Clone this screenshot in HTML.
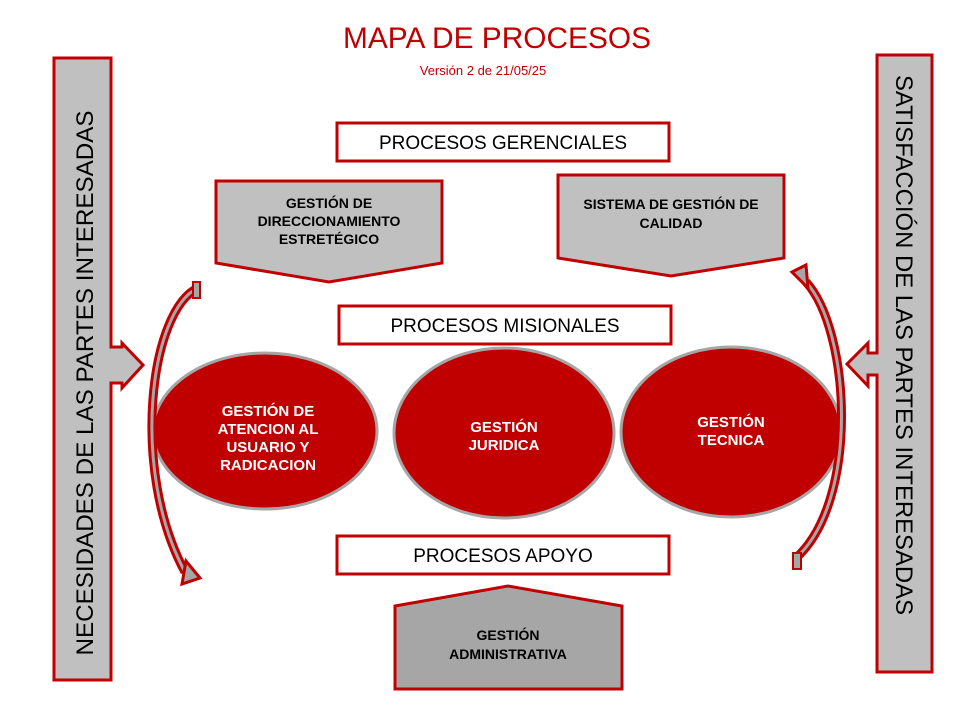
<!DOCTYPE html>
<html><head><meta charset="utf-8"><style>
html,body{margin:0;padding:0;background:#fff;width:956px;height:715px;overflow:hidden}
svg{display:block}
text{font-family:"Liberation Sans",sans-serif}
</style></head><body>
<svg width="956" height="715" viewBox="0 0 956 715">
<text x="497" y="48" text-anchor="middle" font-size="30" fill="#c00000" textLength="308" lengthAdjust="spacingAndGlyphs">MAPA DE PROCESOS</text>
<text x="483" y="75" text-anchor="middle" font-size="13" fill="#c00000">Versión 2 de 21/05/25</text>

<!-- left bar -->
<polygon points="54,58 111,58 111,347 122,347 122,343 143,365 122,388 122,383 111,383 111,680 54,680" fill="#c0c0c0" stroke="#c00000" stroke-width="3"/>
<text transform="translate(93,383) rotate(-90)" text-anchor="middle" font-size="24" fill="#000" textLength="545" lengthAdjust="spacingAndGlyphs">NECESIDADES DE LAS PARTES INTERESADAS</text>
<!-- right bar -->
<polygon points="877,55 932,55 932,672 877,672 877,375 868,375 868,386 847,364 868,343 868,353 877,353" fill="#c0c0c0" stroke="#c00000" stroke-width="3"/>
<text transform="translate(896,345) rotate(90)" text-anchor="middle" font-size="24" fill="#000" textLength="540" lengthAdjust="spacingAndGlyphs">SATISFACCIÓN DE LAS PARTES INTERESADAS</text>

<!-- header boxes -->
<rect x="337" y="123" width="332" height="38" fill="#fff" stroke="#c00000" stroke-width="3"/>
<text x="503" y="149" text-anchor="middle" font-size="19">PROCESOS GERENCIALES</text>
<rect x="339" y="306" width="332" height="38" fill="#fff" stroke="#c00000" stroke-width="3"/>
<text x="505" y="332" text-anchor="middle" font-size="19">PROCESOS MISIONALES</text>
<rect x="337" y="536" width="332" height="38" fill="#fff" stroke="#c00000" stroke-width="3"/>
<text x="503" y="562" text-anchor="middle" font-size="19">PROCESOS APOYO</text>

<!-- pentagons -->
<polygon points="216,181 442,181 442,263 329,282 216,263" fill="#c0c0c0" stroke="#c00000" stroke-width="3"/>
<g font-size="14" font-weight="bold" text-anchor="middle">
<text x="329" y="208">GESTIÓN DE</text>
<text x="329" y="226">DIRECCIONAMIENTO</text>
<text x="329" y="244">ESTRETÉGICO</text>
</g>
<polygon points="558,175 784,175 784,258 671,276 558,258" fill="#c0c0c0" stroke="#c00000" stroke-width="3"/>
<g font-size="14" font-weight="bold" text-anchor="middle">
<text x="671" y="209">SISTEMA DE GESTIÓN DE</text>
<text x="671" y="228">CALIDAD</text>
</g>
<polygon points="395,606 508,586 622,606 622,689 395,689" fill="#a6a6a6" stroke="#c00000" stroke-width="3"/>
<g font-size="14" font-weight="bold" text-anchor="middle">
<text x="508" y="640">GESTIÓN</text>
<text x="508" y="659">ADMINISTRATIVA</text>
</g>

<!-- ellipses -->
<g fill="#c00000" stroke="#a6a6a6" stroke-width="3">
<ellipse cx="265" cy="431" rx="112" ry="78"/>
<ellipse cx="504" cy="433" rx="110" ry="85"/>
<ellipse cx="731" cy="432" rx="110" ry="85"/>
</g>
<g font-size="15" font-weight="bold" text-anchor="middle" fill="#fff">
<text x="268" y="416">GESTIÓN DE</text>
<text x="268" y="434">ATENCION AL</text>
<text x="268" y="452">USUARIO Y</text>
<text x="268" y="470">RADICACION</text>
<text x="504" y="432">GESTIÓN</text>
<text x="504" y="450">JURIDICA</text>
<text x="731" y="427">GESTIÓN</text>
<text x="731" y="445">TECNICA</text>
</g>

<!-- curved arrows left -->
<path d="M198,288 C150,310 130,470 185,572" fill="none" stroke="#c00000" stroke-width="9"/>
<path d="M198,288 C150,310 130,470 185,572" fill="none" stroke="#a6a6a6" stroke-width="3"/>
<polygon points="186,561 200,578 182,584" fill="#a6a6a6" stroke="#c00000" stroke-width="3"/>
<rect x="193" y="282" width="7" height="16" fill="#a6a6a6" stroke="#c00000" stroke-width="2"/>
<!-- right -->
<path d="M806,282 C850,330 860,500 796,558" fill="none" stroke="#c00000" stroke-width="9"/>
<path d="M806,282 C850,330 860,500 796,558" fill="none" stroke="#a6a6a6" stroke-width="3"/>
<polygon points="792,272 806,265 808,288" fill="#a6a6a6" stroke="#c00000" stroke-width="3"/>
<rect x="793" y="553" width="8" height="16" fill="#a6a6a6" stroke="#c00000" stroke-width="2"/>
</svg>
</body></html>
